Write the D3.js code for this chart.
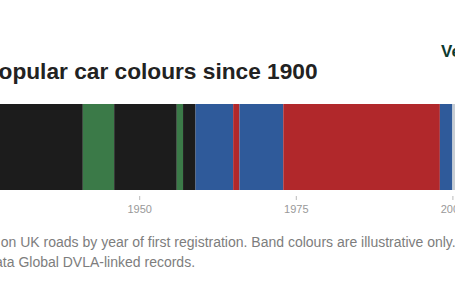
<!DOCTYPE html>
<html>
<head>
<meta charset="utf-8">
<script src="https://cdn.jsdelivr.net/npm/d3@7"></script>
<style>
  html, body { margin: 0; padding: 0; background: #fff; }
  svg { display: block; font-family: "Liberation Sans", Arial, sans-serif; }
</style>
</head>
<body>
<div id="chart"></div>
<script>
// Colour bands: first year of each band, and its colour name
const bandStarts = [1900, 1941, 1946, 1956, 1957, 1959, 1965, 1966, 1973, 1998, 2000, 2010, 2016];
const bandColours = ["Black", "Green", "Black", "Green", "Black", "Blue", "Red", "Blue", "Red", "Blue", "Silver", "Black", "Grey"];
const endYear = 2025;
const tickYears = [1900, 1925, 1950, 1975, 2000, 2025];

const colourNames = ["Black", "Green", "Blue", "Red", "Silver", "Grey"];
const colourHex = ["#1c1c1c", "#3b7a48", "#2f5a9a", "#b1282b", "#c8cdd3", "#8a8f96"];

const width = 455, height = 304;

const svg = d3.select("#chart")
  .append("svg")
  .attr("width", width)
  .attr("height", height);

// full chart is wider than the window; it is shifted left
const x = d3.scaleLinear()
  .domain([1900, endYear])
  .range([-174, 609]);

const colour = d3.scaleOrdinal()
  .domain(colourNames)
  .range(colourHex);

const bands = bandStarts.map((s, i) => ({
  start: s,
  end: i < bandStarts.length - 1 ? bandStarts[i + 1] : endYear,
  colour: bandColours[i]
}));

const barTop = 104, barH = 86;
const textLeft = -172;

svg.append("text")
  .attr("x", textLeft)
  .attr("y", 79)
  .style("font-size", "22.7px")
  .style("font-weight", "bold")
  .attr("fill", "#222")
  .text("Britain's most popular car colours since 1900");

svg.append("text")
  .attr("x", 441)
  .attr("y", 57)
  .style("font-size", "17px")
  .style("font-weight", "bold")
  .attr("fill", "#0e3a2f")
  .text("Vertu");

svg.append("g")
  .selectAll("rect")
  .data(bands)
  .join("rect")
  .attr("x", d => x(d.start))
  .attr("y", barTop)
  .attr("width", d => x(d.end) - x(d.start))
  .attr("height", barH)
  .attr("fill", d => colour(d.colour));

const axis = svg.append("g")
  .attr("transform", `translate(0,${barTop + barH + 6})`)
  .call(d3.axisBottom(x).tickValues(tickYears).tickFormat(d3.format("d")).tickSize(4).tickPadding(5));

axis.select(".domain").remove();
axis.selectAll(".tick line").attr("stroke", "#bbb");
axis.selectAll(".tick text")
  .attr("fill", "#999")
  .style("font-size", "11px")
  .style("font-family", "Liberation Sans, Arial, sans-serif");

const caption = svg.append("text")
  .attr("x", textLeft)
  .attr("y", 247)
  .style("font-size", "14px")
  .attr("fill", "#7d7d7d");

caption.append("tspan")
  .attr("x", textLeft)
  .text("Leading colour among cars on UK roads by year of first registration. Band colours are illustrative only.");
caption.append("tspan")
  .attr("x", textLeft)
  .attr("dy", 20)
  .text("Sources: SMMT and Autodata Global DVLA-linked records.");
</script>
</body>
</html>
